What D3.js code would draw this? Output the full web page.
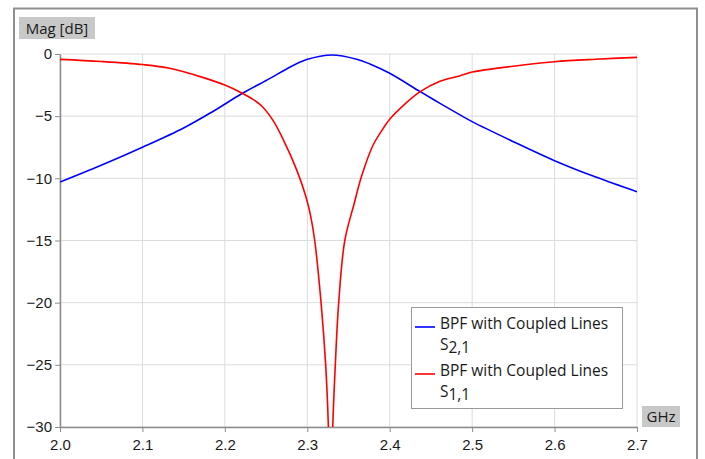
<!DOCTYPE html>
<html>
<head>
<meta charset="utf-8">
<script src="https://cdn.jsdelivr.net/npm/d3@7"></script>
<style>
  body { margin: 0; background: #fff; }
  svg { font-family: "Open Sans", "Noto Sans", sans-serif; }
  .grid line { stroke: #dcdcdc; stroke-width: 1; }
  .axis path, .axis line { stroke: #8c8c8c; }
  .axis text { font-size: 15px; fill: #1a1a1a; }
</style>
</head>
<body>
<div id="chart"></div>
<script>
// frequency in GHz, magnitude in dB
var s21Freq = [2.00, 2.05, 2.10, 2.15, 2.186, 2.2204, 2.2548, 2.275, 2.2993, 2.33, 2.36, 2.376, 2.40, 2.437, 2.461, 2.4853, 2.50, 2.55, 2.60, 2.65, 2.70];
var s21Mag  = [-10.3, -8.95, -7.5, -5.95, -4.6, -3.2, -1.96, -1.2, -0.45, -0.08, -0.42, -0.8, -1.55, -3.03, -3.97, -4.9, -5.44, -7.05, -8.58, -9.9, -11.08];

var s11Freq = [2.00, 2.05, 2.10, 2.133, 2.174, 2.20, 2.221, 2.233, 2.245, 2.258, 2.271, 2.287, 2.298, 2.304, 2.309, 2.3167, 2.3223, 2.3256, 2.3283, 2.3309, 2.334, 2.3381, 2.3455, 2.357, 2.366, 2.380, 2.39, 2.40, 2.418, 2.437, 2.461, 2.4853, 2.50, 2.55, 2.60, 2.65, 2.70];
var s11Mag  = [-0.43, -0.6, -0.85, -1.15, -1.9, -2.5, -3.15, -3.6, -4.2, -5.3, -6.9, -9.3, -11.4, -13.0, -15.0, -20, -25, -30, -40, -30, -25, -20, -15, -12, -9.8, -7.3, -6.2, -5.25, -4.05, -3.03, -2.2, -1.75, -1.45, -0.98, -0.62, -0.42, -0.27];

var xTicks = [2.0, 2.1, 2.2, 2.3, 2.4, 2.5, 2.6, 2.7];
var yTicks = [0, -5, -10, -15, -20, -25, -30];
var legendNames = ["BPF with Coupled Lines", "BPF with Coupled Lines"];
var legendSubs = [["S", "2,1"], ["S", "1,1"]];
var colors = ["#0000ff", "#ff0000"];

var width = 705, height = 459;

var svg = d3.select("#chart").append("svg")
    .attr("width", width)
    .attr("height", height);

// outer frame
svg.append("rect")
    .attr("x", 14).attr("y", 8.5)
    .attr("width", 683).attr("height", 480)
    .attr("fill", "none")
    .attr("stroke", "#8f8f8f")
    .attr("stroke-width", 2);

var x = d3.scaleLinear().domain([2.0, 2.7]).range([60, 637]);
var y = d3.scaleLinear().domain([-30, 0]).range([427, 54]);

// grid
svg.append("g").attr("class", "grid")
    .selectAll("line.v").data(xTicks).enter().append("line")
    .attr("x1", function(d) { return x(d); }).attr("x2", function(d) { return x(d); })
    .attr("y1", y(0)).attr("y2", y(-30));
svg.append("g").attr("class", "grid")
    .selectAll("line.h").data(yTicks).enter().append("line")
    .attr("x1", x(2.0)).attr("x2", x(2.7))
    .attr("y1", function(d) { return y(d); }).attr("y2", function(d) { return y(d); });

// axes
var xAxis = svg.append("g").attr("class", "axis")
    .attr("transform", "translate(0," + y(-30) + ")")
    .call(d3.axisBottom(x).tickValues(xTicks).tickFormat(d3.format(".1f")).tickSize(5).tickSizeOuter(0));
xAxis.selectAll("text").attr("dy", "1.0em");

var yAxis = svg.append("g").attr("class", "axis")
    .attr("transform", "translate(" + x(2.0) + ",0)")
    .call(d3.axisLeft(y).tickValues(yTicks).tickFormat(d3.format("d")).tickSize(5).tickSizeOuter(0));
yAxis.selectAll("text").attr("x", -8);
svg.selectAll(".axis path").attr("stroke-width", 1.5);

// axis label boxes
function labelBox(bx, by, bw, bh, txt) {
    svg.append("rect").attr("x", bx).attr("y", by).attr("width", bw).attr("height", bh)
        .attr("fill", "#c8c8c8");
    svg.append("text").attr("x", bx + bw / 2).attr("y", by + bh / 2 + 5.5)
        .attr("text-anchor", "middle")
        .attr("font-size", 15).attr("fill", "#1a1a1a")
        .text(txt);
}
labelBox(19, 17, 76, 22, "Mag [dB]");
labelBox(642, 406, 38, 21, "GHz");

// curves
svg.append("clipPath").attr("id", "plotclip").append("rect")
    .attr("x", x(2.0)).attr("y", y(0) - 2)
    .attr("width", x(2.7) - x(2.0)).attr("height", y(-30) - y(0) + 2);

var line = d3.line()
    .x(function(d) { return x(d[0]); })
    .y(function(d) { return y(d[1]); })
    .curve(d3.curveCatmullRom.alpha(0.5));

var series = [d3.zip(s21Freq, s21Mag), d3.zip(s11Freq, s11Mag)];

svg.append("g").attr("clip-path", "url(#plotclip)")
    .selectAll("path").data(series).enter().append("path")
    .attr("d", line)
    .attr("fill", "none")
    .attr("stroke", function(d, i) { return colors[i]; })
    .attr("stroke-width", 1.6);

// legend
var legend = svg.append("g");
legend.append("rect")
    .attr("x", 411.5).attr("y", 307.5).attr("width", 211).attr("height", 101)
    .attr("fill", "#fff").attr("stroke", "#9a9a9a");

var entry = legend.selectAll("g.entry").data(legendNames).enter().append("g")
    .attr("transform", function(d, i) { return "translate(0," + (i * 47) + ")"; });
entry.append("line")
    .attr("x1", 415).attr("x2", 435).attr("y1", 327).attr("y2", 327)
    .attr("stroke", function(d, i) { return colors[i]; })
    .attr("stroke-width", 1.6);
entry.append("text")
    .attr("x", 440).attr("y", 329)
    .attr("font-size", 15.5).attr("fill", "#1a1a1a")
    .text(function(d) { return d; });
var sub = entry.append("text")
    .attr("x", 440).attr("y", 350)
    .attr("font-size", 15.5).attr("fill", "#1a1a1a");
sub.append("tspan").text(function(d, i) { return legendSubs[i][0]; });
sub.append("tspan").attr("dy", 3).text(function(d, i) { return legendSubs[i][1]; });
</script>
</body>
</html>
